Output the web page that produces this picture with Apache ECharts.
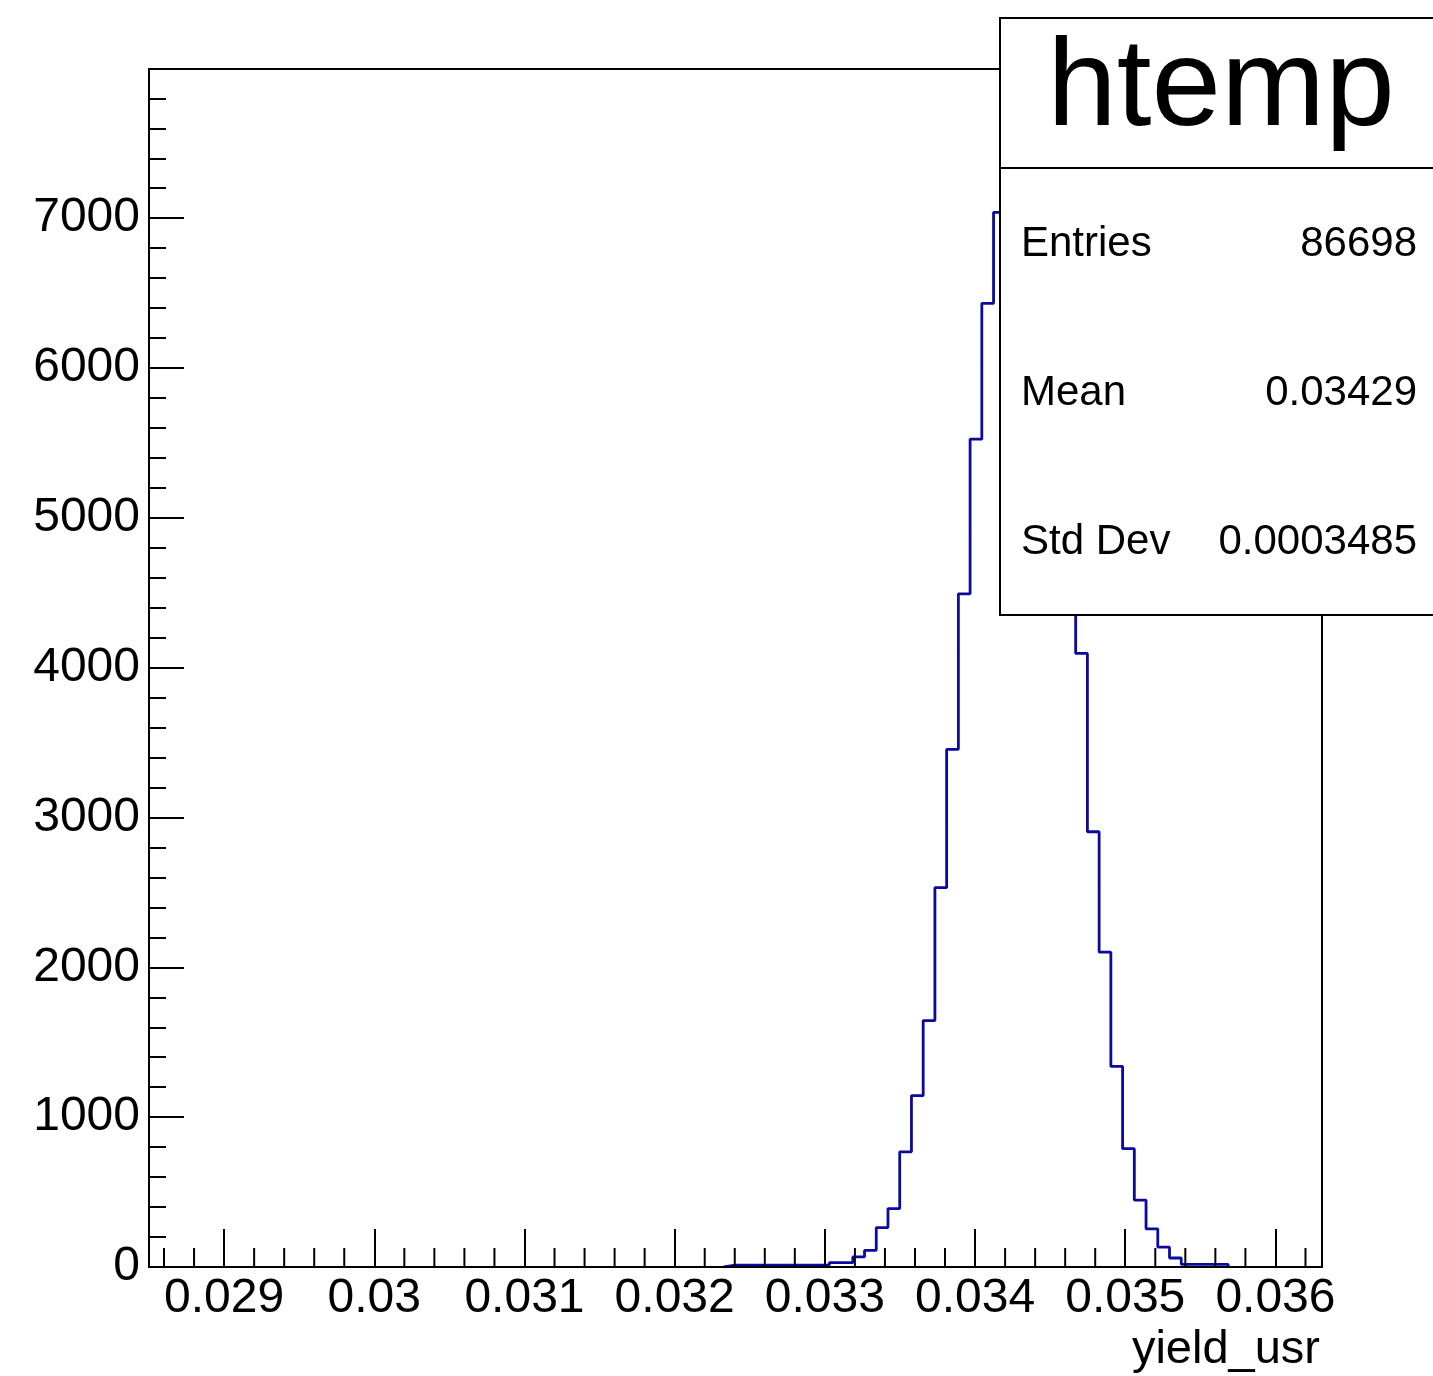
<!DOCTYPE html>
<html>
<head>
<meta charset="utf-8">
<script src="https://cdn.jsdelivr.net/npm/echarts@6/dist/echarts.min.js"></script>
<style>
html,body{margin:0;padding:0;background:#fff;}
#c{width:1433px;height:1376px;}
</style>
</head>
<body>
<div id="c"></div>
<script>
// ---- histogram definition (ROOT htemp, 100 bins) ----
const xMin = 0.0285;
const xMax = 0.03631;
const nBins = 100;
const firstBin = 49;           // index of first non-empty bin
// bin contents for bins 49 .. 91 (all other bins are empty)
const counts = [
  13, 13, 13, 13, 13, 13, 13, 13, 13,
  29, 29,
  67, 111, 263, 390, 769, 1144, 1645, 2532, 3455, 4493, 5525, 6432, 7039,
  7500, 7615, 7450, 6950, 6050, 4900,
  4095, 2905, 2101, 1339, 790, 447, 255, 132, 60, 18, 18, 18, 18
];

// ---- axis ticks / labels ----
const xMajorTicks = [0.029, 0.030, 0.031, 0.032, 0.033, 0.034, 0.035, 0.036];
const xMinorStep = 0.0002;
const yTickStep = 1000;
const xTitle = 'yield_usr';

// ---- stats box ----
const statsName = 'htemp';
const statLabels = ['Entries', 'Mean', 'Std Dev'];
const statValues = ['86698', '0.03429', '0.0003485'];

// ---------------------------------------------------------
const binWidth = (xMax - xMin) / nBins;
const stepData = [];
stepData.push([xMin + firstBin * binWidth, 0]);
counts.forEach((c, i) => stepData.push([xMin + (firstBin + i) * binWidth, c]));
stepData.push([xMin + (firstBin + counts.length) * binWidth, counts[counts.length - 1]]);
stepData.push([xMin + (firstBin + counts.length) * binWidth, 0]);

const yMax = 1.05 * Math.max.apply(null, counts);

const xMinorTicks = [];
for (let v = Math.ceil(xMin / xMinorStep) * xMinorStep; v <= xMax + 1e-12; v += xMinorStep) {
  const r = Math.round(v * 1e6) / 1e6;
  if (!xMajorTicks.some(m => Math.abs(m - r) < 1e-9)) xMinorTicks.push([r, 0]);
}

const FONT = '"Liberation Sans", Arial, Helvetica, sans-serif';
const chart = echarts.init(document.getElementById('c'), null, {renderer: 'canvas'});

const rowY = [244, 393, 542];
const graphics = [
  {type: 'rect', z: 100, shape: {x: 1000, y: 18, width: 445, height: 597},
   style: {fill: '#fff', stroke: '#000', lineWidth: 2}},
  {type: 'line', z: 101, shape: {x1: 1000, y1: 168, x2: 1445, y2: 168},
   style: {stroke: '#000', lineWidth: 2}},
  {type: 'text', z: 101, x: 1221, y: 91,
   style: {text: statsName, font: '125px ' + FONT, fill: '#000', align: 'center', verticalAlign: 'middle'}},
  {type: 'text', z: 10, x: 1320, y: 1350,
   style: {text: xTitle, font: '47px ' + FONT, fill: '#000', align: 'right', verticalAlign: 'middle'}}
];
statLabels.forEach((l, i) => {
  graphics.push({type: 'text', z: 101, x: 1021, y: rowY[i],
    style: {text: l, font: '42px ' + FONT, fill: '#000', align: 'left', verticalAlign: 'middle'}});
  graphics.push({type: 'text', z: 101, x: 1417, y: rowY[i],
    style: {text: statValues[i], font: '42px ' + FONT, fill: '#000', align: 'right', verticalAlign: 'middle'}});
});

chart.setOption({
  animation: false,
  backgroundColor: '#fff',
  grid: {left: 149, top: 69, right: 111, bottom: 109, show: true,
         borderColor: '#000', borderWidth: 2, backgroundColor: 'transparent', containLabel: false},
  xAxis: {
    type: 'value', min: xMin, max: xMax, z: 4,
    axisLine: {show: true, onZero: false, lineStyle: {color: '#000', width: 2}},
    axisTick: {show: true, inside: true, length: 38, customValues: xMajorTicks,
               lineStyle: {color: '#000', width: 2}},
    axisLabel: {show: true, customValues: xMajorTicks, margin: 8, color: '#000',
                fontSize: 48, fontFamily: FONT, formatter: v => String(Math.round(v * 1000) / 1000)},
    minorTick: {show: false},
    splitLine: {show: false}
  },
  yAxis: {
    type: 'value', min: 0, max: yMax, interval: yTickStep, z: 4,
    axisLine: {show: true, onZero: false, lineStyle: {color: '#000', width: 2}},
    axisTick: {show: true, inside: true, length: 35, lineStyle: {color: '#000', width: 2}},
    minorTick: {show: true, splitNumber: 5, length: 17, lineStyle: {color: '#000', width: 2}},
    axisLabel: {show: true, margin: 9, color: '#000', fontSize: 48, fontFamily: FONT, showMaxLabel: false,
                padding: [6, 0, 0, 0], formatter: v => String(Math.round(v))},
    splitLine: {show: false}
  },
  series: [
    {type: 'line', data: stepData, step: 'end', showSymbol: false, symbol: 'none', z: 2,
     lineStyle: {color: '#0a0aa0', width: 2.8}, silent: true},
    {type: 'custom', data: xMinorTicks, z: 5, silent: true, clip: false,
     renderItem: (params, api) => {
       const p = api.coord([api.value(0), 0]);
       return {type: 'line', shape: {x1: p[0], y1: p[1], x2: p[0], y2: p[1] - 19},
               style: {stroke: '#000', lineWidth: 2}};
     }}
  ],
  graphic: {elements: graphics}
});
</script>
</body>
</html>
